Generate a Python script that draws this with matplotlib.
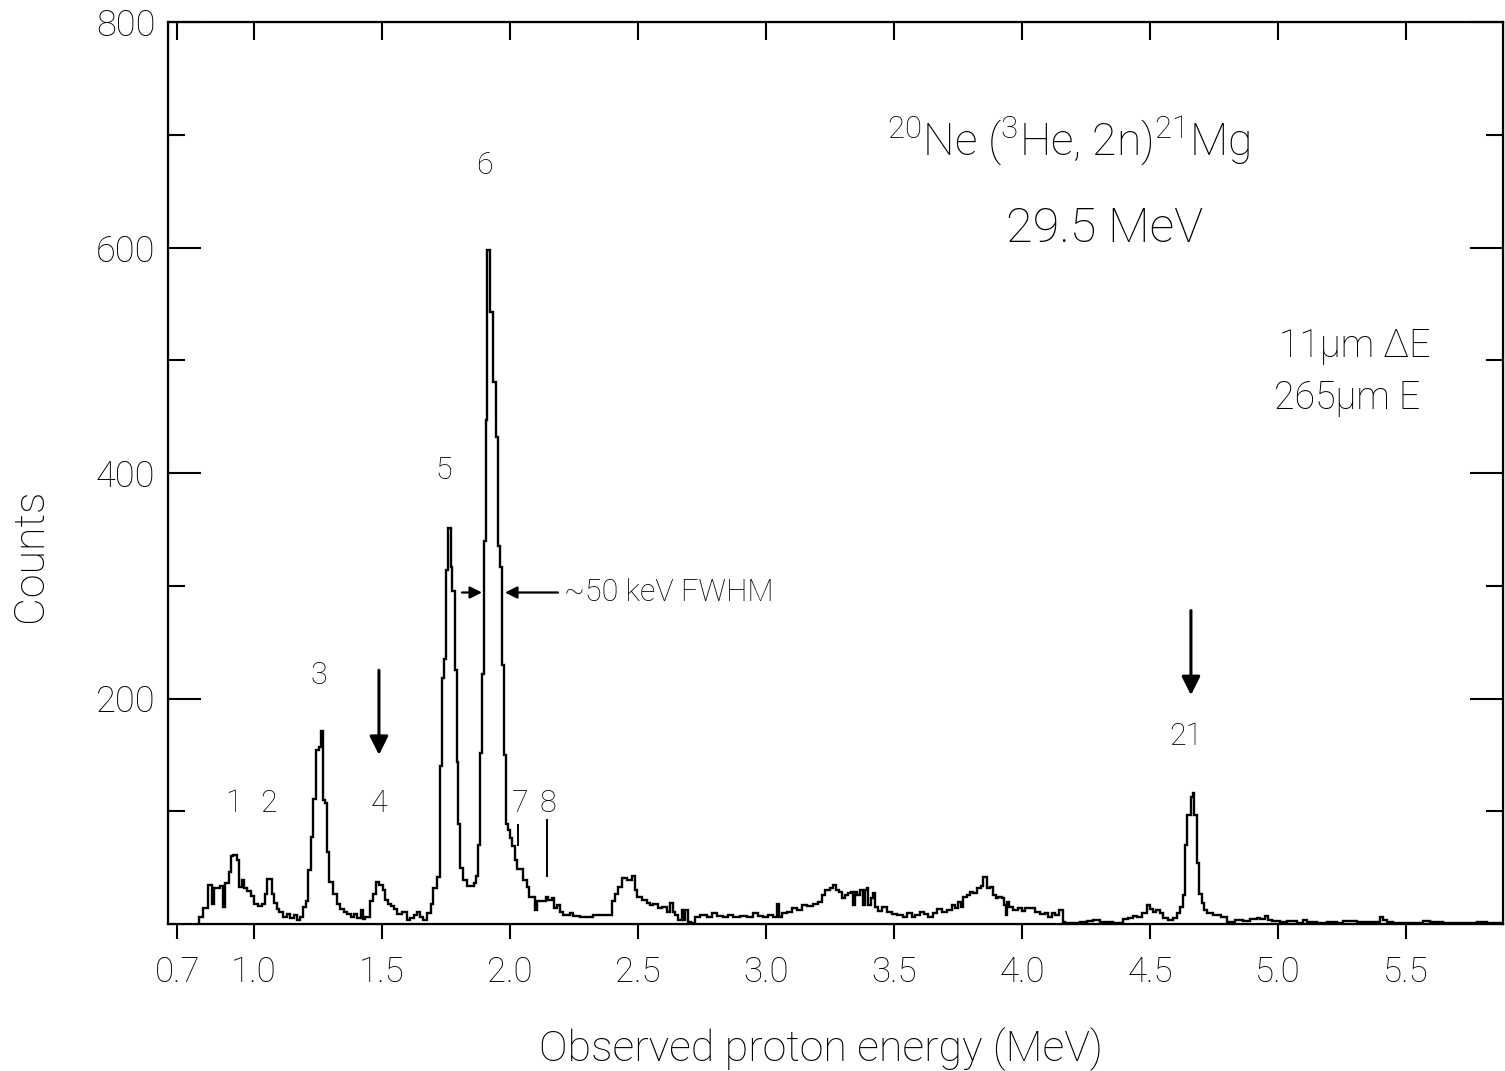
import numpy as np
import matplotlib
matplotlib.use("Agg")
import matplotlib.pyplot as plt

plt.rcParams['font.family'] = ['Roboto', 'DejaVu Sans']
plt.rcParams['mathtext.fontset'] = 'custom'
plt.rcParams['mathtext.rm'] = 'Roboto:light'
plt.rcParams['mathtext.it'] = 'Roboto:light'
plt.rcParams['mathtext.bf'] = 'Roboto'
FW = 'light'

# ---- spectrum data: start energy (MeV) of each constant step and its counts ----
E_low = [0.786, 0.802, 0.822, 0.835, 0.844, 0.867, 0.878, 0.888, 0.901, 0.911,
         0.919, 0.932, 0.943, 0.952, 0.962, 0.974, 0.987, 1.001, 1.014, 1.030,
         1.044, 1.052, 1.069, 1.078, 1.089, 1.099, 1.115, 1.128, 1.141, 1.156,
         1.167, 1.180, 1.193, 1.202, 1.212, 1.221, 1.232, 1.242, 1.253, 1.260,
         1.271, 1.279, 1.286, 1.294, 1.310, 1.323, 1.336, 1.352, 1.365, 1.378,
         1.391, 1.401, 1.417, 1.424, 1.434, 1.453, 1.464, 1.477, 1.487, 1.503,
         1.512, 1.522, 1.534, 1.547, 1.560, 1.577, 1.596, 1.609, 1.625, 1.638,
         1.648, 1.661, 1.677, 1.690, 1.701]
C_low = [6.5, 14, 35, 18, 32, 34, 15, 36, 46, 60,
         61, 57, 33, 39, 32, 29, 25, 18, 16, 18,
         27, 40, 27, 19, 13, 11, 6, 9, 5, 8,
         3.5, 6.5, 15, 20, 48, 77, 111, 154, 157, 171,
         110, 107, 64, 37, 27, 18, 13, 11, 9, 6,
         9, 5, 12, 4, 6.5, 20, 27, 37, 35, 30,
         21, 18, 16, 13, 9, 11, 3.5, 5, 8, 11,
         6.5, 3.5, 10, 18, 32]

E_main = [1.714, 1.728, 1.735, 1.742, 1.749, 1.757, 1.768, 1.775, 1.784, 1.791,
          1.798, 1.806, 1.815, 1.831, 1.859, 1.866, 1.874, 1.881, 1.889, 1.897,
          1.906, 1.911, 1.922, 1.932, 1.944, 1.952, 1.961, 1.968, 1.976]
C_main = [42, 140, 218, 235, 314, 351, 317, 295, 225, 144,
          89, 50, 39, 34, 36, 43, 70, 152, 222, 340,
          447, 598, 543, 481, 432, 335, 317, 230, 150]

E_mid = [1.984, 1.994, 2.000, 2.007, 2.020, 2.026, 2.052, 2.065, 2.076, 2.098,
         2.107, 2.141, 2.150, 2.163, 2.172, 2.182, 2.195, 2.208, 2.234, 2.247,
         2.273, 2.326,
         2.352, 2.397, 2.410, 2.423, 2.436, 2.456, 2.475, 2.488, 2.497, 2.514,
         2.534, 2.547, 2.560, 2.579, 2.592, 2.612, 2.625, 2.635, 2.645, 2.658,
         2.671, 2.677, 2.684, 2.697, 2.706, 2.723, 2.742, 2.768, 2.788, 2.807,
         2.833, 2.853, 2.872, 2.898, 2.924, 2.951, 2.970, 2.990, 3.009, 3.029,
         3.042, 3.052, 3.061, 3.081, 3.100, 3.120, 3.139, 3.159, 3.185, 3.204,
         3.217, 3.230, 3.250, 3.263, 3.273, 3.286, 3.296, 3.309, 3.322, 3.331,
         3.341, 3.348, 3.357, 3.367, 3.378, 3.387, 3.393, 3.400, 3.409, 3.417,
         3.427, 3.436, 3.452, 3.471, 3.491, 3.510, 3.536, 3.549, 3.569, 3.582,
         3.602, 3.617, 3.634, 3.654, 3.669, 3.686, 3.706, 3.725, 3.738, 3.751,
         3.760, 3.771, 3.784, 3.797, 3.810, 3.823, 3.839, 3.849, 3.865, 3.875,
         3.888, 3.898, 3.908, 3.921, 3.930, 3.937, 3.943, 3.951, 3.966, 3.986,
         3.999, 4.012, 4.031, 4.051, 4.070, 4.090, 4.103, 4.116, 4.129, 4.146,
         4.159, 4.168, 4.227, 4.253, 4.279]
C_mid = [89, 83, 76, 69, 57, 49, 39, 33, 24, 12,
         20, 24, 21, 23, 14, 17, 11, 8, 9.5, 7,
         6, 8,
         8, 20, 27, 33, 40.5, 39, 42.6, 30, 24, 21,
         19, 17, 18, 14, 15, 11, 19, 11, 8, 3.5,
         12, 3.5, 12, 2, 0.6, 6.5, 8, 6.5, 9.4, 7,
         6, 8, 6, 7, 6.5, 9.4, 7, 6, 8, 6.5,
         17.7, 6.5, 9.4, 11, 14, 12.4, 16.8, 16, 17.7, 19.8,
         25.7, 30, 31.6, 34.6, 30, 28.7, 22.7, 25.7, 27.2, 28.7,
         16.8, 28.7, 25.7, 30, 16.8, 30, 31.6, 16.8, 22.7, 27.2,
         15.4, 11.8, 14.8, 11, 9, 8, 6.5, 9.4, 6, 8,
         11, 9, 6.5, 9.4, 13, 11, 12.4, 16.8, 14, 19.8,
         15.4, 24.2, 25.7, 28.7, 27.2, 31.6, 33.7, 42, 31.6, 33,
         25.7, 22.7, 24.2, 22.7, 16.8, 8, 19.8, 15.4, 12.4, 14,
         11.8, 14, 14, 11, 9, 10, 6.5, 9.4, 8, 12.4,
         2, 1.2, 1.8, 2.9, 3.5]

E_high = [4.305, 4.357, 4.396, 4.415, 4.435, 4.451, 4.467, 4.487, 4.500, 4.513,
          4.523, 4.539, 4.552, 4.572, 4.591, 4.604, 4.617, 4.628, 4.637, 4.643,
          4.659, 4.667, 4.672, 4.682, 4.691, 4.702, 4.711, 4.721, 4.747, 4.776,
          4.800, 4.832, 4.865, 4.891, 4.917, 4.930, 4.949, 4.962, 4.975, 5.008,
          5.034, 5.073, 5.099, 5.112, 5.151, 5.190, 5.229, 5.255, 5.281, 5.307,
          5.399, 5.412, 5.425, 5.451, 5.490, 5.516, 5.568, 5.594, 5.646, 5.698,
          5.776, 5.815]
C_high = [2.1, 1.2, 4.2, 5.1, 7.1, 6.5, 9.5, 16.9, 13.1, 11.0,
          12.5, 9.5, 5.1, 3.6, 5.1, 9.5, 15.4, 25.8, 70, 97,
          113, 116, 97, 54, 27, 19, 12, 9.5, 8, 6.5,
          2.1, 3.6, 2.7, 4.2, 5.1, 4.2, 7.1, 3.6, 2.4, 1.8,
          3.0, 1.2, 3.6, 1.8, 1.2, 2.1, 1.2, 2.7, 3.0, 2.1,
          6.5, 3.6, 2.1, 1.2, 0.6, 1.2, 2.4, 1.8, 1.2, 0.6,
          1.5, 0.6]
E_END = 5.880

x_ticks = [0.7, 1.0, 1.5, 2.0, 2.5, 3.0, 3.5, 4.0, 4.5, 5.0, 5.5]
x_ticklabels = ["0.7", "1.0", "1.5", "2.0", "2.5", "3.0", "3.5", "4.0", "4.5", "5.0", "5.5"]
y_major = [200, 400, 600, 800]
y_minor = [100, 300, 500, 700]

peak_labels = ["1", "2", "3", "4", "5", "6", "7", "8", "21"]
peak_label_E = [0.922, 1.055, 1.254, 1.488, 1.742, 1.902, 2.039, 2.148, 4.641]
peak_label_C = [107, 107, 220, 107, 402, 673, 107, 107, 166]

edges = np.array(E_low + E_main + E_mid + E_high + [E_END])
counts = np.array(C_low + C_main + C_mid + C_high, dtype=float)

fig = plt.figure(figsize=(15.05, 10.71), dpi=100)
ax = fig.add_axes([168/1505, 1 - 924/1071, (1503-168)/1505, (924-22)/1071])

ax.stairs(counts, edges, baseline=0, color='black', lw=1.7)

ax.set_xlim(0.664, 5.879)
ax.set_ylim(0, 800)

for s in ax.spines.values():
    s.set_linewidth(1.6)

ax.set_xticks(x_ticks)
ax.set_xticklabels(x_ticklabels, fontsize=25, fontweight=FW)
ax.set_yticks(y_major)
ax.set_yticklabels([str(v) for v in y_major], fontsize=26, fontweight=FW)
ax.set_yticks(y_minor, minor=True)
ax.tick_params(axis='x', which='major', direction='out', length=11, width=1.5,
               pad=12, top=False)
ax.tick_params(axis='y', which='major', direction='in', length=24, width=1.5,
               pad=9, left=True, right=True)
ax.tick_params(axis='y', which='minor', direction='in', length=12, width=1.5,
               left=True, right=True)

axt = ax.twiny()
axt.set_xlim(ax.get_xlim())
axt.set_xticks(x_ticks)
axt.tick_params(axis='x', direction='in', length=13, width=1.5, labeltop=False)

ax.set_xlabel("Observed proton energy (MeV)", fontsize=31, fontweight=FW)
ax.xaxis.set_label_coords(0.489, -0.115)
ax.set_ylabel("Counts", fontsize=31, fontweight=FW)
ax.yaxis.set_label_coords(-0.088, 0.409)

for lab, e, c in zip(peak_labels, peak_label_E, peak_label_C):
    ax.text(e, c, lab, fontsize=22, fontweight=FW, ha='center', va='center')

arrow_kw = dict(arrowstyle='-|>', color='black', lw=2.2, mutation_scale=28,
                shrinkA=0, shrinkB=0)
ax.annotate('', xy=(1.488, 150), xytext=(1.488, 225), arrowprops=arrow_kw)
ax.annotate('', xy=(4.660, 203), xytext=(4.660, 278), arrowprops=arrow_kw)

small_kw = dict(arrowstyle='-|>', color='black', lw=1.6, mutation_scale=18,
                shrinkA=0, shrinkB=0)
ax.annotate('', xy=(1.8906, 294), xytext=(1.8125, 294), arrowprops=small_kw)
ax.annotate('', xy=(1.9805, 294), xytext=(2.1875, 294), arrowprops=small_kw)
ax.text(2.212, 294, "~50 keV FWHM", fontsize=22, fontweight=FW, ha='left', va='center')

ax.plot([2.033, 2.033], [70, 88], color='black', lw=1.4)
ax.plot([2.146, 2.146], [43, 92], color='black', lw=1.4)

ax.text(4.184, 695, r"$^{\mathrm{20}}$Ne ($^{\mathrm{3}}$He, 2n)$^{\mathrm{21}}$Mg",
        fontsize=32, fontweight=FW, ha='center', va='center')
ax.text(4.324, 617, "29.5 MeV", fontsize=35, fontweight=FW, ha='center', va='center')
ax.text(5.594, 512, "11μm ΔE", fontsize=27, fontweight=FW, ha='right', va='center')
ax.text(5.555, 466, "265μm E", fontsize=27, fontweight=FW, ha='right', va='center')

fig.savefig("out.png", dpi=100)
